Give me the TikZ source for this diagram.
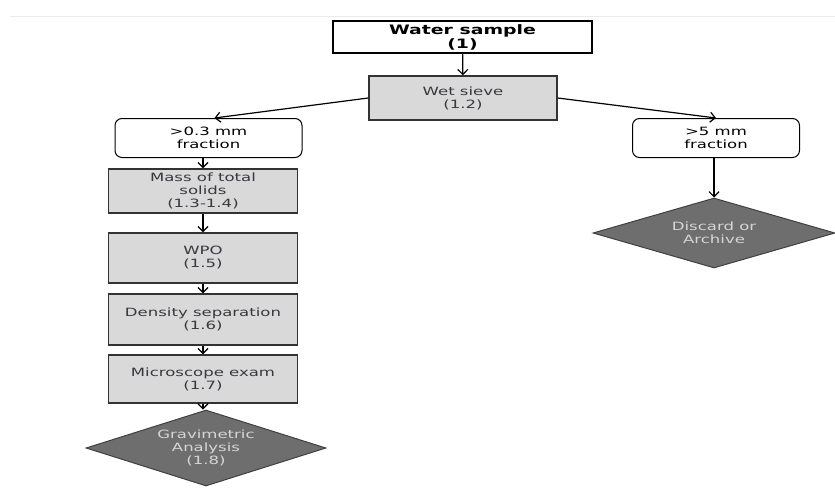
\documentclass[tikz,border=0pt]{standalone}
\usepackage{fontspec}
\setmainfont{DejaVu Sans}[FakeStretch=1.45]
\usetikzlibrary{arrows.meta,shapes.geometric,calc}
\definecolor{boxgray}{HTML}{D9D9D9}
\definecolor{diagray}{HTML}{6E6E6E}
\definecolor{diatext}{HTML}{D6D6D6}
\definecolor{txtgray}{HTML}{38383F}
\begin{document}
\begin{tikzpicture}[x=1pt,y=-1pt,
  every node/.style={font=\fontsize{11.4}{13}\selectfont, align=center, inner sep=0pt},
  plainbox/.style={draw=black, line width=1.2pt, fill=white, text=black},
  procbox/.style={draw=black!80, line width=1.5pt, fill=boxgray, text=txtgray},
  fracbox/.style={draw=black, line width=1pt, fill=white, rounded corners=7pt, text=black},
  decision/.style={diamond, draw=black!75, line width=1pt, fill=diagray, text=diatext, aspect=3.2},
  arr/.style={draw=black, line width=1.2pt, -{Straight Barb[length=5pt,width=10pt]}}]
\useasboundingbox (0,0) rectangle (835,490);
\draw[black!8, line width=0.8pt] (10,16) -- (835,16);
\node[plainbox, minimum width=259pt, minimum height=32pt, font=\fontsize{13}{14}\selectfont\bfseries] (water) at (462.5,37) {Water sample\\(1)};
\node[procbox, minimum width=188pt, minimum height=44pt] (wet) at (463,98) {Wet sieve\\(1.2)};
\node[fracbox, minimum width=187pt, minimum height=39pt] (f03) at (208.5,138) {>0.3 mm\\fraction};
\node[fracbox, minimum width=167pt, minimum height=39pt] (f5) at (716,138) {>5 mm\\fraction};
\node[procbox, minimum width=189pt, minimum height=44pt] (mass) at (203,191) {Mass of total\\solids\\(1.3-1.4)};
\node[procbox, minimum width=189pt, minimum height=50pt] (wpo) at (203,258) {WPO\\(1.5)};
\node[procbox, minimum width=189pt, minimum height=51pt] (dens) at (203,319.5) {Density separation\\(1.6)};
\node[procbox, minimum width=189pt, minimum height=48pt] (micro) at (203,379) {Microscope exam\\(1.7)};
\node[decision, minimum width=240pt, minimum height=76pt] (grav) at (206,448) {Gravimetric\\Analysis\\(1.8)};
\node[decision, minimum width=242pt, minimum height=70pt] (disc) at (714,233) {Discard or\\Archive};
\draw[arr] (water) -- (wet);
\draw[arr] (wet.west) -- ($(f03.north)+(6,0)$);
\draw[arr] (wet.east) -- (f5.north);
\draw[arr] (f03.south -| mass.north) -- (mass.north);
\draw[arr] (mass) -- (wpo);
\draw[arr] (wpo) -- (dens);
\draw[arr] (dens) -- (micro);
\draw[arr] (micro.south) -- (micro.south |- grav.north);
\draw[arr] (f5.south -| disc.north) -- (disc.north);
\end{tikzpicture}
\end{document}
